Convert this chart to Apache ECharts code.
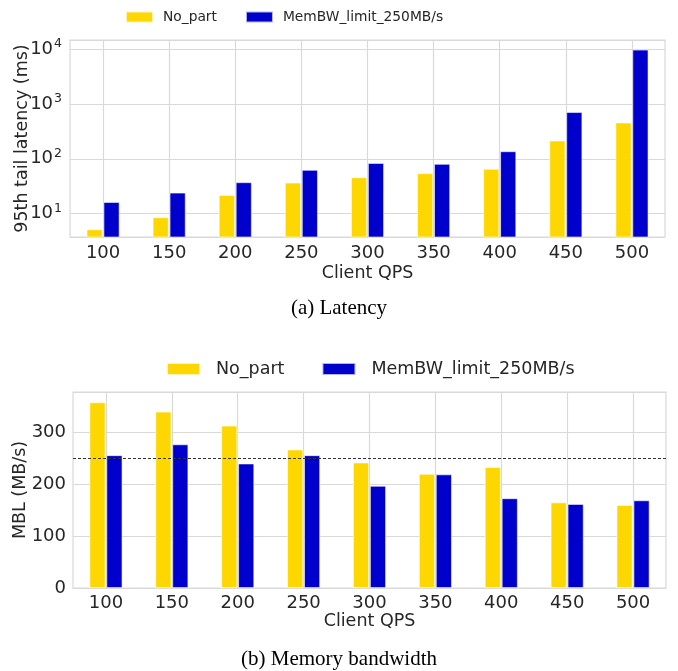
<!DOCTYPE html>
<html>
<head>
<meta charset="utf-8">
<script src="https://cdn.jsdelivr.net/npm/echarts@6/dist/echarts.min.js"></script>
<style>
  html, body { margin: 0; padding: 0; background: #fff; }
  #chart { width: 678px; height: 671px; }
</style>
</head>
<body>
<div id="chart"></div>
<script>
// 数据
const categories = ['100', '150', '200', '250', '300', '350', '400', '450', '500'];
const seriesNames = ['No_part', 'MemBW_limit_250MB/s'];
// (a) 95th tail latency (ms)
const latencyNoPart = [5.2, 8.6, 21.9, 36.8, 46, 54.6, 65.5, 215, 457];
const latencyMemBW = [16.3, 24.2, 37.4, 62.7, 84, 80.7, 137, 708, 9700];
// (b) MBL (MB/s)
const mblNoPart = [358, 340, 313, 267, 242, 220, 233, 165, 160];
const mblMemBW = [256, 277, 240, 256, 197, 219, 173, 162, 169];
const mblLimit = 250;
const mblTicks = [0, 100, 200, 300];

const YELLOW = '#FFD700';
const BLUE = '#0000CD';
const TEXT = '#262626';
const GRID = '#d9d9d9';
const FONT = 'DejaVu Sans';
const TICK_SIZE = 18;
const NAME_SIZE = 17.5;

const chart = echarts.init(document.getElementById('chart'));

// 对数轴标签：只显示 10 的整数次幂
const logLabel = (v) => {
    const l = Math.log10(v);
    const e = Math.round(l);
    if (Math.abs(l - e) > 1e-6) return '';
    return '{b|10}{s|' + e + '}';
};

const xAxisBase = (gridIndex, margin, nameGap) => ({
    type: 'category',
    gridIndex: gridIndex,
    data: categories,
    boundaryGap: true,
    axisLine: { show: false },
    axisTick: { show: false },
    axisLabel: { color: TEXT, fontFamily: FONT, fontSize: TICK_SIZE, margin: margin },
    splitLine: { show: true, alignWithLabel: true, lineStyle: { color: GRID, width: 1.2 } },
    name: 'Client QPS',
    nameLocation: 'middle',
    nameGap: nameGap,
    nameMoveOverlap: false,
    nameTextStyle: { color: TEXT, fontFamily: FONT, fontSize: NAME_SIZE }
});

const barStyle = (color) => ({ color: color, borderColor: 'rgba(255,255,255,0.7)', borderWidth: 0.8 });

const option = {
    backgroundColor: '#fff',
    animation: false,
    title: [
        {
            text: '(a) Latency', left: 'center', top: 293,
            textStyle: { fontFamily: 'Liberation Serif', fontSize: 21, fontWeight: 'normal', color: '#000' }
        },
        {
            text: '(b) Memory bandwidth', left: 'center', top: 644,
            textStyle: { fontFamily: 'Liberation Serif', fontSize: 21, fontWeight: 'normal', color: '#000' }
        }
    ],
    legend: [
        {
            data: seriesNames,
            left: 125, top: 10, padding: 0,
            itemWidth: 27, itemHeight: 11, itemGap: 28,
            icon: 'rect',
            textStyle: { color: TEXT, fontFamily: FONT, fontSize: 13.8, padding: [0, 0, 0, 5] }
        },
        {
            data: seriesNames,
            left: 166, top: 360, padding: 0,
            itemWidth: 33, itemHeight: 12, itemGap: 37,
            icon: 'rect',
            textStyle: { color: TEXT, fontFamily: FONT, fontSize: 17.5, padding: [0, 0, 0, 11] }
        }
    ],
    grid: [
        { left: 70, right: 13, top: 40, bottom: 434, show: true, borderColor: GRID, borderWidth: 1.2, outerBoundsMode: 'none' },
        { left: 73, right: 12, top: 392, bottom: 83, show: true, borderColor: GRID, borderWidth: 1.2, outerBoundsMode: 'none' }
    ],
    xAxis: [xAxisBase(0, 7, 27), xAxisBase(1, 6, 24)],
    yAxis: [
        {
            type: 'log',
            gridIndex: 0,
            logBase: 10,
            min: 3.77,
            max: 14580,
            axisLine: { show: false },
            axisTick: { show: false },
            axisLabel: {
                formatter: logLabel,
                margin: 8,
                rich: {
                    b: { color: TEXT, fontFamily: FONT, fontSize: TICK_SIZE },
                    s: { color: TEXT, fontFamily: FONT, fontSize: 12.5, padding: [0, 0, 10, 1] }
                }
            },
            splitLine: { show: true, lineStyle: { color: GRID, width: 1.2 } },
            name: '95th tail latency (ms)',
            nameLocation: 'middle',
            nameGap: 39,
            nameMoveOverlap: false,
            nameTextStyle: { color: TEXT, fontFamily: FONT, fontSize: NAME_SIZE }
        },
        {
            type: 'value',
            gridIndex: 1,
            min: mblTicks[0],
            max: 378,
            interval: mblTicks[1] - mblTicks[0],
            axisLine: { show: false },
            axisTick: { show: false },
            axisLabel: {
                color: TEXT, fontFamily: FONT, fontSize: TICK_SIZE, margin: 7,
                formatter: (v) => (mblTicks.includes(v) ? String(v) : '')
            },
            splitLine: { show: true, lineStyle: { color: GRID, width: 1.2 } },
            name: 'MBL (MB/s)',
            nameLocation: 'middle',
            nameGap: 44,
            nameMoveOverlap: false,
            nameTextStyle: { color: TEXT, fontFamily: FONT, fontSize: NAME_SIZE }
        }
    ],
    series: [
        {
            name: seriesNames[0], type: 'bar', xAxisIndex: 0, yAxisIndex: 0,
            barWidth: 16, barGap: '6%', itemStyle: barStyle(YELLOW), data: latencyNoPart
        },
        {
            name: seriesNames[1], type: 'bar', xAxisIndex: 0, yAxisIndex: 0,
            barWidth: 16, barGap: '6%', itemStyle: barStyle(BLUE), data: latencyMemBW
        },
        {
            name: seriesNames[0], type: 'bar', xAxisIndex: 1, yAxisIndex: 1,
            barWidth: 16, barGap: '6%', itemStyle: barStyle(YELLOW), data: mblNoPart,
            markLine: {
                silent: true,
                symbol: 'none',
                label: { show: false },
                lineStyle: { color: '#333', type: [3, 2], width: 1 },
                data: [{ yAxis: mblLimit }]
            }
        },
        {
            name: seriesNames[1], type: 'bar', xAxisIndex: 1, yAxisIndex: 1,
            barWidth: 16, barGap: '6%', itemStyle: barStyle(BLUE), data: mblMemBW
        }
    ]
};

chart.setOption(option);
</script>
</body>
</html>
